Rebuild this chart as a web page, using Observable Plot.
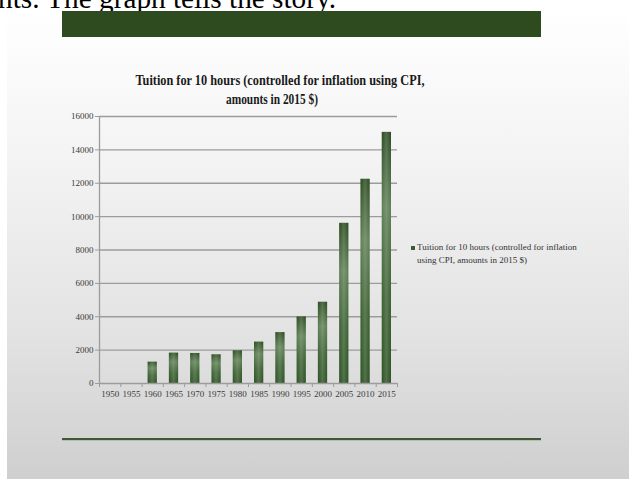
<!DOCTYPE html>
<html>
<head>
<meta charset="utf-8">
<script src="https://cdn.jsdelivr.net/npm/d3@7"></script>
<script src="https://cdn.jsdelivr.net/npm/@observablehq/plot@0.6"></script>
<style>
  html, body { margin: 0; padding: 0; background: #ffffff; overflow: hidden; }
  #wrap { position: relative; width: 629px; height: 479px; overflow: hidden; }
  #deco { position: absolute; left: 0; top: 0; }
  #chart { position: absolute; left: 0; top: 100px; }
  #legend { position: absolute; left: 411px; top: 241px; font-family: "Liberation Serif", serif; font-size: 9px; line-height: 12.5px; color: #333; }
  #legend .sw { position: absolute; left: 0; top: 4.5px; width: 4px; height: 4px; background: #3b5e30; }
  #legend .lt { position: absolute; left: 6px; top: 0; white-space: nowrap; }
</style>
</head>
<body>
<div id="wrap">
  <svg id="deco" width="629" height="479" xmlns="http://www.w3.org/2000/svg">
    <defs>
      <linearGradient id="slideGrad" x1="0" y1="0" x2="0" y2="1">
        <stop offset="0" stop-color="#ffffff"/>
        <stop offset="0.35" stop-color="#f2f2f2"/>
        <stop offset="0.7" stop-color="#e2e2e2"/>
        <stop offset="1" stop-color="#cfcfcf"/>
      </linearGradient>
    </defs>
    <rect x="7" y="10" width="622" height="469" fill="url(#slideGrad)"/>
    <text x="-2" y="8" font-family="Liberation Serif, serif" font-size="29" fill="#000" textLength="338" lengthAdjust="spacingAndGlyphs">nts. The graph tells the story.</text>
    <rect x="62" y="11" width="479" height="26" fill="#2d4b1f"/>
    <rect x="62" y="438" width="479" height="2.2" fill="#3d5a35"/>
    <text x="280" y="85" text-anchor="middle" font-family="Liberation Serif, serif" font-weight="bold" font-size="14" fill="#1a1a1a" textLength="289" lengthAdjust="spacingAndGlyphs">Tuition for 10 hours (controlled for inflation using CPI,</text>
    <text x="272" y="104" text-anchor="middle" font-family="Liberation Serif, serif" font-weight="bold" font-size="14" fill="#1a1a1a" textLength="92" lengthAdjust="spacingAndGlyphs">amounts in 2015 $)</text>
  </svg>
  <div id="chart"></div>
  <div id="legend"><span class="sw"></span><span class="lt">Tuition for 10 hours (controlled for inflation<br>using CPI, amounts in 2015 $)</span></div>
</div>
<script>
// ---- data ----
const years = [1950, 1955, 1960, 1965, 1970, 1975, 1980, 1985, 1990, 1995, 2000, 2005, 2010, 2015];
const tuition = [null, null, 1280, 1820, 1800, 1720, 1960, 2480, 3050, 3990, 4870, 9600, 12240, 15050];
const yTicks = [0, 2000, 4000, 6000, 8000, 10000, 12000, 14000, 16000];
const seriesName = "Tuition for 10 hours (controlled for inflation using CPI, amounts in 2015 $)";

const data = years.map((year, i) => ({year, value: tuition[i]})).filter(d => d.value != null);
const half = (years[1] - years[0]) / 2;
const xDomain = [years[0] - half, years[years.length - 1] + half];
const boundaries = [...years.map(y => y - half), xDomain[1]];

const grid = "#9c9c9c";

const chart = Plot.plot({
  width: 629,
  height: 300,
  marginLeft: 99,
  marginRight: 232,
  marginTop: 16,
  marginBottom: 17,
  style: {background: "transparent", fontFamily: "'Liberation Serif', serif", fontSize: "9px", color: "#3a3a3a", overflow: "visible"},
  x: {type: "linear", domain: xDomain},
  y: {domain: [0, 16000]},
  marks: [
    Plot.gridY(yTicks.filter(v => v > 0), {stroke: grid, strokeOpacity: 1, strokeWidth: 1.3}),
    Plot.rectY(data, {x1: d => d.year - half, x2: d => d.year + half, y: "value", insetLeft: 6, insetRight: 6, fill: "url(#barGradV)", title: d => seriesName}),
    Plot.rectY(data, {x1: d => d.year - half, x2: d => d.year + half, y: "value", insetLeft: 6, insetRight: 6, fill: "url(#barGradH)"}),
    Plot.ruleY([0], {stroke: grid, strokeWidth: 1.3}),
    Plot.ruleX([xDomain[0]], {stroke: grid, strokeWidth: 1.3}),
    Plot.axisY({ticks: yTicks, tickSize: 4, tickPadding: 2, tickFormat: d => String(d), label: null, stroke: grid}),
    Plot.axisX({ticks: years, tickSize: 0, tickPadding: 7, tickFormat: d => String(d), label: null}),
    Plot.axisX({ticks: boundaries, tickSize: 4, tickFormat: () => "", label: null, stroke: grid})
  ]
});

d3.select(chart).insert("defs", ":first-child").html(`
  <linearGradient id="barGradV" x1="0" y1="0" x2="0" y2="1">
    <stop offset="0" stop-color="#2a4b1f"/>
    <stop offset="0.3" stop-color="#5f8055"/>
    <stop offset="0.65" stop-color="#3c6132"/>
    <stop offset="1" stop-color="#2c5222"/>
  </linearGradient>
  <linearGradient id="barGradH" x1="0" y1="0" x2="1" y2="0">
    <stop offset="0" stop-color="#ffffff" stop-opacity="0"/>
    <stop offset="0.5" stop-color="#ffffff" stop-opacity="0.18"/>
    <stop offset="1" stop-color="#ffffff" stop-opacity="0"/>
  </linearGradient>
`);

document.getElementById("chart").appendChild(chart);
</script>
</body>
</html>
